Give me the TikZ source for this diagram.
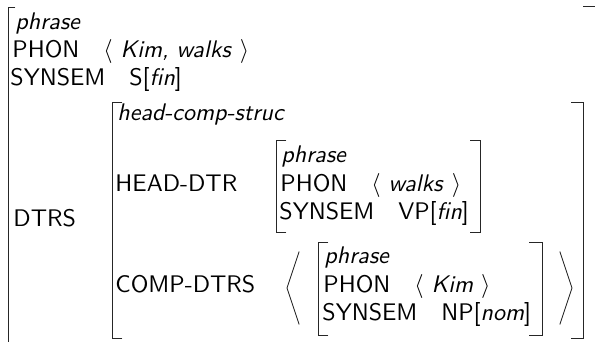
\documentclass[tikz,border=0pt]{standalone}
\usepackage{fontspec}
\usepackage{graphicx}

\newcommand{\avmbox}[1]{\scalebox{2.4}{#1}}

\begin{document}
\begin{tikzpicture}[
    x = 1pt,
    y = -1pt,
    line width = 0.9pt,
    attr/.style = {
      anchor = base west,
      inner sep = 0pt,
      font = \fontsize{10}{12}\selectfont\sffamily
    },
    sort/.style = {
      attr,
      font = \fontsize{10}{12}\selectfont\sffamily\itshape
    },
    val/.style = {
      attr,
      xshift = 23pt
    },
    brack/.style = {
      draw = black!85,
      line width = 0.9pt,
      line cap = rect
    }
  ]
  \useasboundingbox (0,0) rectangle (595,342);
  \clip (0,0) rectangle (595,342);

  % outer phrase
  \draw[brack] plot[] coordinates {(15,7) (8,7) (8,350)};
  \draw[brack] plot[] coordinates {(583,6) (600,6) (600,350)};
  \node[sort] (ph-type) at (15,30) {\avmbox{phrase}};
  \node[attr] (ph-phon) at (12,58) {\avmbox{PHON}};
  \node[val] (ph-phonv) at (ph-phon.base east) {\avmbox{$\langle$ \textit{Kim, walks} $\rangle$}};
  \node[attr] (ph-syn) at (10,86) {\avmbox{SYNSEM}};
  \node[val] (ph-synv) at (ph-syn.base east) {\avmbox{S[\textit{fin}]}};
  \node[attr] (ph-dtrs) at (13,227) {\avmbox{DTRS}};

  % head-comp-struc
  \draw[brack] plot[] coordinates {(122,102) (112,102) (112,338) (122,338)};
  \draw[brack] plot[] coordinates {(571,102) (583,102) (583,338) (571,338)};
  \node[sort] (hc-type) at (117,121) {\avmbox{head-comp-struc}};
  \node[attr] (hc-head) at (115,192) {\avmbox{HEAD-DTR}};
  \node[attr] (hc-comp) at (115,292) {\avmbox{COMP-DTRS}};

  % head daughter
  \draw[brack] plot[] coordinates {(286,140) (276,140) (276,232) (286,232)};
  \draw[brack] plot[] coordinates {(470,140) (480,140) (480,232) (470,232)};
  \node[sort] (hd-type) at (281,163) {\avmbox{phrase}};
  \node[attr] (hd-phon) at (280,192) {\avmbox{PHON}};
  \node[val] (hd-phonv) at (hd-phon.base east) {\avmbox{$\langle$ \textit{walks} $\rangle$}};
  \node[attr] (hd-syn) at (279,220) {\avmbox{SYNSEM}};
  \node[val] (hd-synv) at (hd-syn.base east) {\avmbox{VP[\textit{fin}]}};

  % comp daughters
  \draw[brack] plot[] coordinates {(299,252) (287,288) (299,324)};
  \draw[brack] plot[] coordinates {(560,252) (572,288) (560,324)};
  \draw[brack] plot[] coordinates {(328,242) (318,242) (318,335) (328,335)};
  \draw[brack] plot[] coordinates {(529,242) (542,242) (542,335) (529,335)};
  \node[sort] (cd-type) at (324,263) {\avmbox{phrase}};
  \node[attr] (cd-phon) at (323,292) {\avmbox{PHON}};
  \node[val] (cd-phonv) at (cd-phon.base east) {\avmbox{$\langle$ \textit{Kim} $\rangle$}};
  \node[attr] (cd-syn) at (322,320) {\avmbox{SYNSEM}};
  \node[val] (cd-synv) at (cd-syn.base east) {\avmbox{NP[\textit{nom}]}};
\end{tikzpicture}
\end{document}
